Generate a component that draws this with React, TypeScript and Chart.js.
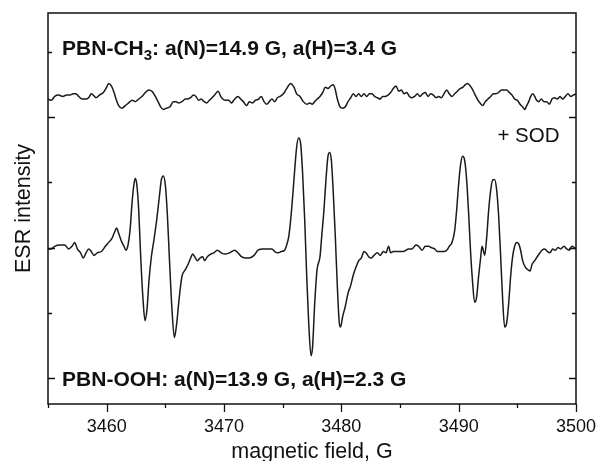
import React, { useEffect, useRef } from "react";
import { Chart, registerables } from "chart.js";

Chart.register(...registerables);

// Upper trace (PBN-CH3 with SOD) — magnetic field (G) and intensity (a.u.)
const fieldTop = [
  3455.0, 3455.28, 3455.57, 3455.91, 3456.25, 3456.59, 3456.88, 3457.16, 3457.39, 3457.61,
  3457.9, 3458.18, 3458.47, 3458.69, 3458.86, 3459.09, 3459.38, 3459.72, 3460.0, 3460.17,
  3460.4, 3460.63, 3460.8, 3461.02, 3461.31, 3461.59, 3461.88, 3462.16, 3462.44, 3462.73,
  3463.01, 3463.3, 3463.58, 3463.86, 3464.15, 3464.38, 3464.6, 3464.83, 3465.11, 3465.4,
  3465.68, 3465.91, 3466.14, 3466.42, 3466.7, 3466.93, 3467.16, 3467.39, 3467.61, 3467.84,
  3468.07, 3468.3, 3468.52, 3468.75, 3468.98, 3469.2, 3469.49, 3469.72, 3469.89, 3470.11,
  3470.4, 3470.63, 3470.91, 3471.19, 3471.42, 3471.65, 3471.93, 3472.16, 3472.44, 3472.67,
  3472.95, 3473.18, 3473.41, 3473.64, 3473.86, 3474.09, 3474.32, 3474.55, 3474.77, 3475.06,
  3475.34, 3475.68, 3475.97, 3476.19, 3476.48, 3476.76, 3477.05, 3477.33,
  3477.5, 3477.73, 3477.95, 3478.18, 3478.41, 3478.64, 3478.86, 3479.09, 3479.32, 3479.49,
  3479.66, 3479.89, 3480.11, 3480.34, 3480.57, 3480.8, 3481.02, 3481.25, 3481.48, 3481.7,
  3481.93, 3482.16, 3482.39, 3482.61, 3482.84, 3483.07, 3483.3, 3483.52, 3483.75, 3483.98,
  3484.2, 3484.43, 3484.66, 3484.89, 3485.11, 3485.34, 3485.57, 3485.8, 3486.02, 3486.25,
  3486.48, 3486.7, 3486.93, 3487.16, 3487.39, 3487.61, 3487.84, 3488.07, 3488.3, 3488.52,
  3488.75, 3488.98, 3489.2, 3489.43, 3489.66, 3489.89, 3490.11, 3490.34, 3490.57, 3490.74,
  3490.91, 3491.14, 3491.36, 3491.59, 3491.82, 3492.05, 3492.27, 3492.5, 3492.73, 3492.95,
  3493.18, 3493.41, 3493.64, 3493.86, 3494.09, 3494.32, 3494.55, 3494.77, 3495.0, 3495.23,
  3495.45, 3495.63, 3495.8, 3495.97, 3496.14, 3496.31, 3496.48, 3496.65, 3496.82, 3497.05,
  3497.27, 3497.5, 3497.73, 3497.95, 3498.18, 3498.41, 3498.64, 3498.86, 3499.09, 3499.32,
  3499.55, 3499.77, 3500.0,
];
const intensityTop = [
  214, 213, 216, 217, 216, 217, 217, 218, 218, 216,
  214, 214, 215, 218, 217, 215, 217, 219, 223, 226,
  224, 219, 214, 209, 207, 209, 211, 213, 212, 214,
  216, 219, 221, 220, 216, 212, 208, 206, 207, 208,
  212, 212, 211, 212, 214, 214, 215, 217, 216, 213,
  214, 212, 211, 213, 215, 217, 220, 216, 214, 213,
  213, 211, 214, 216, 214, 212, 209, 212, 211, 213,
  214, 216, 212, 210, 212, 214, 212, 215, 216, 218,
  222, 226, 223, 218, 216, 212, 210, 211,
  210, 212, 214, 216, 219, 223, 222, 224, 225, 221,
  214, 208, 207, 208, 212, 215, 218, 216, 218, 216,
  218, 216, 218, 218, 216, 215, 214, 216, 216, 217,
  219, 222, 224, 220, 221, 218, 219, 216, 215, 216,
  218, 216, 218, 219, 216, 218, 217, 215, 216, 215,
  218, 221, 218, 216, 218, 220, 222, 223, 225, 226,
  225, 222, 218, 214, 211, 209, 212, 214, 216, 218,
  218, 219, 221, 221, 221, 219, 217, 214, 213, 210,
  208, 206, 209, 212, 216, 218, 216, 213, 212, 214,
  212, 212, 210, 214, 215, 214, 216, 214, 216, 218,
  216, 217, 218,
];

// Lower trace (PBN-OOH)
const fieldBottom = [
  3455.0, 3455.28, 3455.57, 3455.99, 3456.42, 3456.76, 3457.05, 3457.27, 3457.5, 3457.78,
  3458.01, 3458.24, 3458.47, 3458.69, 3458.92, 3459.2, 3459.55, 3459.89, 3460.17, 3460.45,
  3460.68, 3460.85, 3461.02, 3461.25, 3461.48, 3461.65, 3461.82, 3461.99, 3462.16, 3462.33,
  3462.44, 3462.56, 3462.73, 3462.9, 3463.1, 3463.27, 3463.44, 3463.61, 3463.81, 3464.03,
  3464.26, 3464.49, 3464.66, 3464.83, 3465.0, 3465.17, 3465.34, 3465.57, 3465.77, 3465.97,
  3466.19, 3466.42, 3466.7, 3466.93, 3467.16, 3467.33, 3467.5, 3467.73, 3467.95, 3468.18,
  3468.35, 3468.58, 3468.86, 3469.15, 3469.43, 3469.77, 3470.06, 3470.48, 3470.91, 3471.19,
  3471.48, 3471.82, 3472.16, 3472.56, 3472.9, 3473.32, 3473.75, 3474.09, 3474.32, 3474.6,
  3474.89, 3475.17, 3475.34, 3475.51, 3475.68, 3475.85, 3476.02, 3476.19, 3476.36, 3476.53,
  3476.7, 3476.88, 3477.05, 3477.22, 3477.42,
  3477.55, 3477.73, 3477.93, 3478.18, 3478.35, 3478.52, 3478.69, 3478.86, 3479.01, 3479.15,
  3479.32, 3479.49, 3479.66, 3479.83, 3479.94, 3480.11, 3480.34, 3480.57, 3480.8, 3481.02,
  3481.25, 3481.48, 3481.7, 3481.93, 3482.1, 3482.33, 3482.56, 3482.78, 3483.07, 3483.32,
  3483.58, 3483.81, 3484.03, 3484.2, 3484.43, 3484.74, 3485.03, 3485.31, 3485.74, 3486.02,
  3486.36, 3486.59, 3486.88, 3487.16, 3487.44, 3487.67, 3487.95, 3488.18, 3488.47, 3488.75,
  3488.98, 3489.2, 3489.43, 3489.66, 3489.83, 3490.0, 3490.17, 3490.34, 3490.51, 3490.68,
  3490.85, 3491.02, 3491.19, 3491.36, 3491.53, 3491.7, 3491.88, 3491.99, 3492.1, 3492.22,
  3492.39, 3492.56, 3492.73, 3492.9, 3493.07, 3493.24, 3493.41, 3493.58, 3493.75, 3493.92,
  3494.09, 3494.26, 3494.43, 3494.6, 3494.77, 3494.94, 3495.11, 3495.28, 3495.45, 3495.68,
  3495.91, 3496.08, 3496.25, 3496.48, 3496.7, 3496.93, 3497.1, 3497.33, 3497.56, 3497.78,
  3498.01, 3498.24, 3498.47, 3498.69, 3498.98, 3499.2, 3499.43, 3499.66, 3500.0,
];
const intensityBottom = [
  99, 99, 101, 102, 102, 99, 101, 104, 99, 96,
  92, 96, 99, 97, 94, 96, 97, 101, 104, 107,
  112, 115, 111, 105, 101, 98, 102, 113, 134, 149,
  153, 149, 129, 93, 60, 44, 53, 75, 93, 106,
  121, 139, 152, 155, 148, 126, 93, 52, 31, 42,
  62, 78, 83, 87, 92, 95, 93, 90, 92, 93,
  90, 93, 95, 96, 98, 96, 95, 96, 98, 96,
  93, 92, 92, 94, 98, 99, 99, 99, 97, 96,
  97, 98, 102, 108, 121, 139, 159, 177, 184, 180,
  157, 121, 78, 42, 17,
  24, 57, 83, 93, 111, 129, 152, 170, 173, 167,
  141, 108, 70, 42, 39, 47, 55, 65, 71, 79,
  85, 90, 92, 97, 96, 93, 92, 94, 96, 94,
  97, 96, 101, 96, 97, 97, 97, 97, 99, 99,
  102, 101, 98, 101, 101, 100, 99, 97, 97, 97,
  98, 101, 104, 113, 129, 149, 164, 170, 167, 152,
  126, 96, 73, 58, 62, 78, 93, 101, 98, 94,
  108, 129, 144, 152, 152, 144, 124, 93, 60, 39,
  42, 57, 78, 93, 101, 104, 103, 98, 90, 85,
  83, 82, 87, 90, 93, 96, 98, 99, 97, 96,
  99, 98, 100, 99, 101, 99, 98, 101, 99,
];

// Axis ticks
const xTicks = [3455, 3460, 3465, 3470, 3475, 3480, 3485, 3490, 3495, 3500];
const xLabels = [3460, 3470, 3480, 3490, 3500];
const yTicks = [0, 50, 100, 150, 200, 250];
const yMajorTicks = [0, 100, 200];

const xTitle = "magnetic field, G";
const yTitle = "ESR intensity";
const labelTopMain = "PBN-CH";
const labelTopSub = "3";
const labelTopRest = ": a(N)=14.9 G, a(H)=3.4 G";
const labelSOD = "+ SOD";
const labelBottom = "PBN-OOH: a(N)=13.9 G, a(H)=2.3 G";

const FONT = '"Liberation Sans", Arial, Helvetica, sans-serif';

const framePlugin = {
  id: "frameAndText",
  afterDraw(chart: any) {
    const { ctx, chartArea } = chart;
    const { left, right, top, bottom } = chartArea;
    const xs = chart.scales.x;
    const ys = chart.scales.y;
    ctx.save();
    ctx.strokeStyle = "#111";
    ctx.lineWidth = 1.5;
    ctx.strokeRect(left, top, right - left, bottom - top);

    // x ticks (outward)
    ctx.lineWidth = 1.3;
    for (const v of xTicks) {
      const px = Math.round(xs.getPixelForValue(v)) + 0.5;
      const len = xLabels.includes(v) ? 8 : 4;
      ctx.beginPath();
      ctx.moveTo(px, bottom);
      ctx.lineTo(px, bottom + len);
      ctx.stroke();
    }
    // y ticks (inward, both sides)
    for (const v of yTicks) {
      const py = Math.round(ys.getPixelForValue(v)) + 0.5;
      const len = yMajorTicks.includes(v) ? 7 : 4;
      ctx.beginPath();
      ctx.moveTo(left, py);
      ctx.lineTo(left + len, py);
      ctx.moveTo(right, py);
      ctx.lineTo(right - len, py);
      ctx.stroke();
    }

    ctx.fillStyle = "#111";
    // x tick labels
    ctx.font = `18px ${FONT}`;
    ctx.textAlign = "center";
    ctx.textBaseline = "alphabetic";
    for (const v of xLabels) {
      ctx.fillText(String(v), xs.getPixelForValue(v), bottom + 28);
    }
    // x title
    ctx.font = `21.5px ${FONT}`;
    ctx.fillText(xTitle, (left + right) / 2, bottom + 54);
    // y title
    ctx.save();
    ctx.translate(30, (top + bottom) / 2);
    ctx.rotate(-Math.PI / 2);
    ctx.textAlign = "center";
    ctx.fillText(yTitle, 0, 0);
    ctx.restore();

    // annotations
    ctx.textAlign = "left";
    const tx = xs.getPixelForValue(3456.2);
    const ty = ys.getPixelForValue(247.5);
    ctx.font = `bold 21px ${FONT}`;
    ctx.fillText(labelTopMain, tx, ty);
    let w = ctx.measureText(labelTopMain).width;
    ctx.font = `bold 15px ${FONT}`;
    ctx.fillText(labelTopSub, tx + w, ty + 5);
    w += ctx.measureText(labelTopSub).width;
    ctx.font = `bold 21px ${FONT}`;
    ctx.fillText(labelTopRest, tx + w, ty);

    ctx.fillText(labelBottom, tx, ys.getPixelForValue(-6));

    ctx.font = `20.5px ${FONT}`;
    ctx.fillText(labelSOD, xs.getPixelForValue(3493.3), ys.getPixelForValue(181));
    ctx.restore();
  },
};

export default function App() {
  const ref = useRef<HTMLCanvasElement>(null);
  useEffect(() => {
    if (!ref.current) return;
    const chart = new Chart(ref.current, {
      type: "line",
      data: {
        datasets: [
          {
            label: "PBN-CH3 + SOD",
            data: fieldTop.map((f, i) => ({ x: f, y: intensityTop[i] })),
            borderColor: "#1a1a1a",
            borderWidth: 1.5,
            pointRadius: 0,
            cubicInterpolationMode: "monotone",
            fill: false,
          },
          {
            label: "PBN-OOH",
            data: fieldBottom.map((f, i) => ({ x: f, y: intensityBottom[i] })),
            borderColor: "#1a1a1a",
            borderWidth: 1.5,
            pointRadius: 0,
            cubicInterpolationMode: "monotone",
            fill: false,
          },
        ],
      },
      options: {
        responsive: false,
        animation: false,
        layout: { padding: { left: 48, right: 22, top: 13, bottom: 57 } },
        plugins: { legend: { display: false }, tooltip: { enabled: false } },
        scales: {
          x: { type: "linear", min: 3455, max: 3500, display: false },
          y: { type: "linear", min: -20, max: 280, display: false },
        },
      },
      plugins: [framePlugin],
    });
    return () => chart.destroy();
  }, []);
  return (
    <div style={{ position: "absolute", left: 0, top: 0, width: 598, height: 461, background: "#fff" }}>
      <canvas ref={ref} width={598} height={461} style={{ display: "block" }} />
    </div>
  );
}
